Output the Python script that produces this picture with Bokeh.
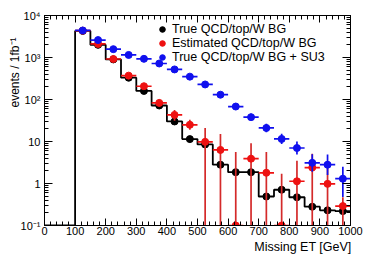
import math
from bokeh.plotting import figure
from bokeh.models import (LinearAxis, LogAxis, SingleIntervalTicker, LogTicker,
                          CustomJSTickFormatter, Legend, LegendItem, Range1d, Title)
from bokeh.embed import file_html
from bokeh.resources import INLINE

# ---------------- data ----------------
bin_width = 50
bin_centers = [125, 175, 225, 275, 325, 375, 425, 475, 525, 575,
               625, 675, 725, 775, 825, 875, 925, 975]
hist_edges = [0, 50, 100, 150, 200, 250, 300, 350, 400, 450, 500,
              550, 600, 650, 700, 750, 800, 850, 900, 950, 1000]

# True QCD/top/W BG (black histogram + points)
true_bg = [4300, 2000, 900, 330, 160, 72, 30, 11.4, 8.5, 2.8,
           1.86, 1.86, 0.49, 0.71, 0.47, 0.28, 0.23, 0.22]
true_bg_lo = [4200, 1940, 865, 315, 150, 65, 26.5, 9.6, 7.2, 2.4,
              1.58, 1.58, 0.41, 0.60, 0.40, 0.24, 0.19, 0.18]
true_bg_hi = [4400, 2060, 935, 345, 170, 80, 34, 13.5, 10, 3.3,
              2.2, 2.2, 0.58, 0.84, 0.56, 0.33, 0.27, 0.26]
hist_values = [0, 0] + true_bg

# Estimated QCD/top/W BG (red)
est_bg = [4350, 2100, 920, 370, 207, 83, 43, 25, 9.8, 6.3,
          0, 3.9, 1.8, 0, 1.13, 2.4, 0.98, 0.29]
est_bg_lo = [4150, 1950, 830, 325, 178, 68, 31, 19, 0, 0,
             0, 0, 0, 0, 0, 0, 0, 0]
est_bg_hi = [4550, 2250, 1020, 420, 240, 100, 56, 33, 21, 15,
             5.6, 9.1, 5.6, 1.7, 3.5, 5.1, 2.4, 0.47]

# True QCD/top/W BG + SU3 (blue)
bg_su3 = [4400, 2600, 1580, 1150, 930, 720, 520, 350, 228, 130,
          68, 38, 21, 11.5, 7.0, 3.1, 2.8, 1.3]
bg_su3_lo = [4250, 2480, 1500, 1080, 870, 665, 478, 318, 204, 113,
             58, 32, 16.7, 8.7, 4.9, 1.9, 1.6, 0.48]
bg_su3_hi = [4550, 2720, 1680, 1230, 1000, 780, 565, 385, 255, 149,
             80, 46, 26.4, 15.2, 10, 5.0, 4.9, 2.5]

legend_labels = ["True QCD/top/W BG", "Estimated QCD/top/W BG",
                 "True QCD/top/W BG + SU3"]
x_title = "Missing ET [GeV]"
y_title = "events / 1fb\u207b\u00b9"

YMIN, YMAX = 0.1, 1e4
XMIN, XMAX = 0, 1000
FONT = "Liberation Sans"
W, H = 366, 254


def fl(vals):
    return [max(v, YMIN) for v in vals]


p = figure(width=W, height=H, output_backend="svg", toolbar_location=None,
           x_range=Range1d(XMIN, XMAX), y_range=Range1d(YMIN, YMAX),
           y_axis_type="log",
           min_border_left=44, min_border_right=16, min_border_top=15,
           min_border_bottom=29)
p.xgrid.visible = False
p.ygrid.visible = False
p.outline_line_color = None
p.background_fill_color = "white"
p.border_fill_color = "white"

x_ticker = SingleIntervalTicker(interval=100, num_minor_ticks=5)
y_ticker = LogTicker(num_minor_ticks=10)
y_fmt = CustomJSTickFormatter(code="""
const e = Math.round(Math.log10(tick));
const sup = {"-1": "\u207b\u00b9", "2": "\u00b2", "3": "\u00b3", "4": "\u2074"};
if (e === 0) return "1";
if (e === 1) return "10";
return "10" + sup[String(e)];
""")
blank_fmt = CustomJSTickFormatter(code="return '';")


def style_axis(ax):
    ax.axis_line_color = "black"
    ax.axis_line_width = 1
    ax.major_tick_in = 7
    ax.major_tick_out = 0
    ax.minor_tick_in = 4
    ax.minor_tick_out = 0
    ax.major_tick_line_color = "black"
    ax.minor_tick_line_color = "black"
    ax.major_label_text_font = FONT
    ax.major_label_text_color = "black"
    ax.major_label_text_font_size = "11px"
    ax.major_label_standoff = 4


xa = p.xaxis[0]
ya = p.yaxis[0]
xa.ticker = x_ticker
ya.ticker = y_ticker
ya.formatter = y_fmt
style_axis(xa)
style_axis(ya)
ya.major_tick_in = 8
xa.major_label_standoff = 1

top_ax = LinearAxis(ticker=SingleIntervalTicker(interval=100, num_minor_ticks=5),
                    formatter=blank_fmt)
style_axis(top_ax)
top_ax.major_label_standoff = 0
p.add_layout(top_ax, "above")
right_ax = LogAxis(ticker=LogTicker(num_minor_ticks=10), formatter=blank_fmt)
style_axis(right_ax)
right_ax.major_label_standoff = 0
right_ax.major_tick_in = 8
p.add_layout(right_ax, "right")

# axis titles, right-aligned at the end of each axis (ROOT style)
p.add_layout(Title(text=x_title, align="right", text_font=FONT,
                   text_font_size="12.5px", text_font_style="normal",
                   text_color="black", standoff=0, offset=-1), "below")
p.add_layout(Title(text=y_title, align="right", text_font=FONT,
                   text_font_size="12px", text_font_style="normal",
                   text_color="black", standoff=-8, offset=22), "left")

# black histogram
p.step(x=hist_edges, y=fl(hist_values + [hist_values[-1]]), mode="after",
       line_color="black", line_width=1.8)

half = bin_width / 2
xl = [c - half for c in bin_centers]
xr = [c + half for c in bin_centers]

# black points
p.segment(x0=bin_centers, y0=fl(true_bg_lo), x1=bin_centers, y1=true_bg_hi,
          line_color="black", line_width=1.5)
r_black = p.scatter(x=bin_centers, y=fl(true_bg), size=7, marker="circle",
                    fill_color="black", line_color="black")

# red points
RED = "#ee1111"
p.segment(x0=bin_centers, y0=fl(est_bg_lo), x1=bin_centers, y1=fl(est_bg_hi),
          line_color="#d42a2a", line_width=1.7)
p.segment(x0=xl, y0=fl(est_bg), x1=xr, y1=fl(est_bg),
          line_color=RED, line_width=1.7)
r_red = p.scatter(x=bin_centers, y=fl(est_bg), size=7, marker="circle",
                  fill_color=RED, line_color=RED)

# blue points
BLUE = "#1010ee"
p.segment(x0=bin_centers, y0=fl(bg_su3_lo), x1=bin_centers, y1=bg_su3_hi,
          line_color=BLUE, line_width=1.7)
p.segment(x0=xl, y0=bg_su3, x1=xr, y1=bg_su3,
          line_color=BLUE, line_width=1.7)
r_blue = p.scatter(x=bin_centers, y=bg_su3, size=7, marker="circle",
                   fill_color=BLUE, line_color=BLUE)

legend = Legend(items=[LegendItem(label=legend_labels[0], renderers=[r_black]),
                       LegendItem(label=legend_labels[1], renderers=[r_red]),
                       LegendItem(label=legend_labels[2], renderers=[r_blue])],
                location=(111, 161), orientation="vertical",
                glyph_width=14, glyph_height=14, spacing=0, padding=0,
                label_standoff=3, label_height=14,
                label_text_font=FONT, label_text_font_size="12.5px",
                label_text_color="black",
                background_fill_alpha=0, border_line_color=None, margin=0)
p.add_layout(legend, "center")

open("out.html", "w").write(file_html(p, INLINE))
